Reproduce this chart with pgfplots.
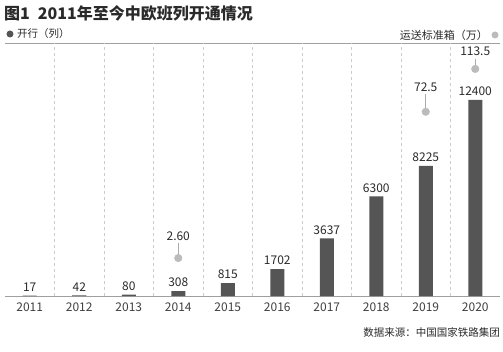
\documentclass[border=0pt]{standalone}
\usepackage{pgfplots}
\pgfplotsset{compat=1.18}
\usetikzlibrary{calc}
\usepackage{fontspec}
\setmainfont{Noto Sans CJK SC}
\definecolor{barc}{HTML}{555555}
\definecolor{dotc}{HTML}{BBBBBB}
\definecolor{linec}{HTML}{AAAAAA}
\definecolor{txt}{HTML}{2A2A2A}
\begin{document}
\begin{tikzpicture}
\begin{axis}[name=ax, scale only axis,
  width=495pt, height=253pt,
  xmin=-0.5, xmax=9.5, ymin=0, ymax=16000,
  separate axis lines,
  y axis line style={draw=none},
  x axis line style={draw=gray!75, line width=0.8pt},
  ytick=\empty,
  xtick={0,...,9},
  xticklabels={2011,2012,2013,2014,2015,2016,2017,2018,2019,2020},
  major tick length=0pt,
  xticklabel style={font=\fontsize{12}{12}\selectfont, text=txt!90, yshift=-3pt},
  extra x ticks={0.5,1.5,2.5,3.5,4.5,5.5,6.5,7.5,8.5},
  extra x tick labels={},
  extra x tick style={grid=major, major grid style={dashed, gray!40, line width=0.5pt}},
  clip=false]
\addplot[ybar, bar width=14pt, fill=barc, draw=none,
  nodes near coords, point meta=explicit symbolic,
  nodes near coords style={font=\fontsize{12}{12}\selectfont, text=txt, anchor=south, inner sep=4pt}]
  table[meta=label] {
x y label
0 17 17
1 42 42
2 80 80
3 308 308
4 815 815
5 1702 1702
6 3637 3637
7 6300 6300
8 8225 8225
9 12400 12400
};
\addplot[only marks, mark=*, mark size=3.8pt, color=dotc,
  error bars/.cd, y dir=plus, y explicit, error mark=none,
  error bar style={color=linec, line width=0.9pt}]
  table[y error=e] {
x y e
3 2400 950
8 11650 1130
9 14360 640
};
\addplot[draw=none, mark=none, nodes near coords, point meta=explicit symbolic,
  nodes near coords style={font=\fontsize{12}{12}\selectfont, text=txt, anchor=south, inner sep=2.5pt}]
  table[meta=label] {
x y label
3 3350 2.60
8 12780 72.5
9 15000 113.5
};
\coordinate (P) at (rel axis cs:0,0);
\end{axis}
\coordinate (Q) at ($(P)+(-5pt,-55pt)$);
\path[use as bounding box] (Q) rectangle ($(Q)+(503pt,351pt)$);
\node[anchor=west, font=\bfseries\fontsize{16}{16}\selectfont, text=txt, inner sep=0pt] at ($(Q)+(4pt,338pt)$) {图1\hspace{0.5em}2011年至今中欧班列开通情况};
\fill[barc] ($(Q)+(10pt,317pt)$) circle (3.5pt);
\node[anchor=west, font=\fontsize{10.5}{11}\selectfont, text=txt, inner sep=0pt] at ($(Q)+(17pt,317pt)$) {开行（列）};
\fill[dotc] ($(Q)+(495pt,316pt)$) circle (3.5pt);
\node[anchor=east, font=\fontsize{11}{11}\selectfont, text=txt, inner sep=0pt] at ($(Q)+(488pt,316pt)$) {运送标准箱（万）};
\node[anchor=east, font=\fontsize{10.5}{11}\selectfont, text=txt, inner sep=0pt] at ($(Q)+(500pt,19pt)$) {数据来源：中国国家铁路集团};
\end{tikzpicture}
\end{document}
